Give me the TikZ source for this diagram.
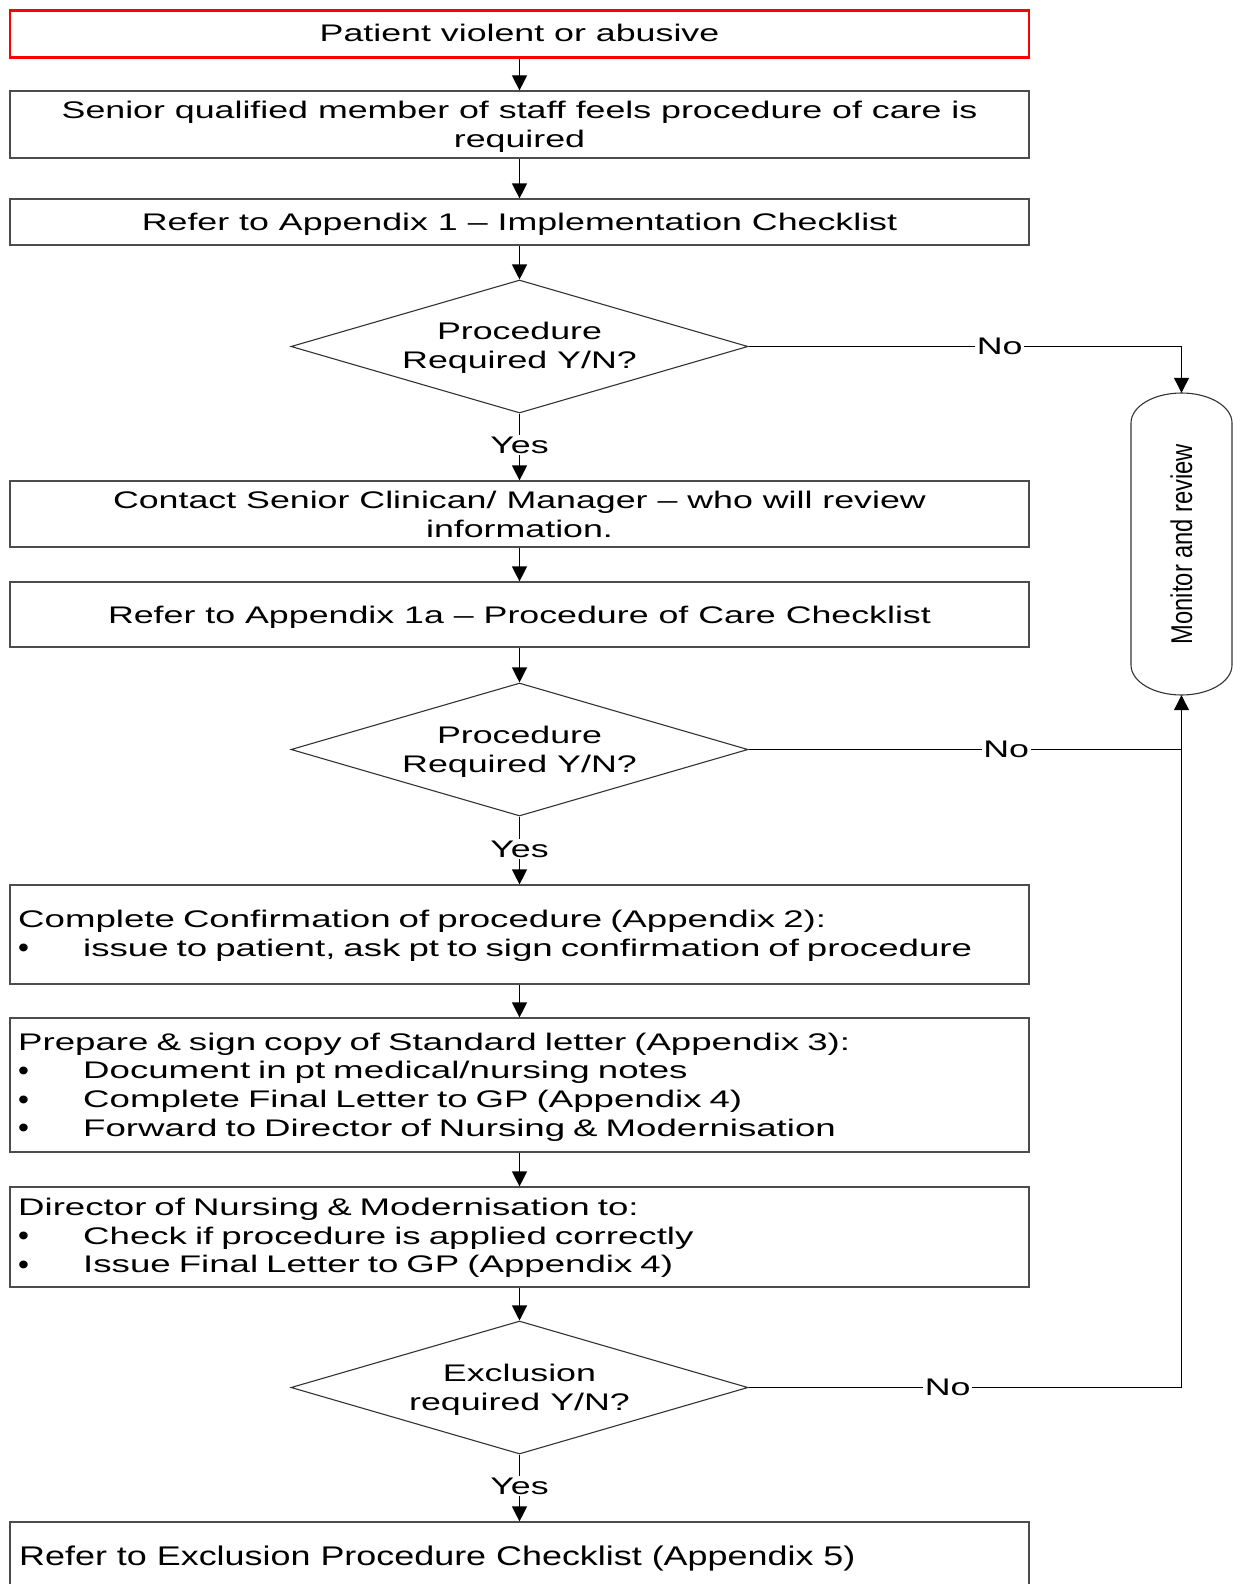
\documentclass[tikz,border=0pt]{standalone}
\usepackage{fontspec}
\setmainfont{Liberation Sans}
\newfontfamily\widefont[FakeStretch=1.49]{Liberation Sans}
\newfontfamily\lwidefont[FakeStretch=1.527]{Liberation Sans}
\newfontfamily\midfont[FakeStretch=1.33]{Liberation Sans}
\newfontfamily\narrowfont[FakeStretch=0.79]{Liberation Sans}
\usetikzlibrary{arrows.meta,shapes.geometric}
\newcommand{\bulitem}{\makebox[65pt][l]{\raisebox{-1.5pt}{\scalebox{0.85}[1.2]{\textbullet}}}}
\tikzset{
  wtext/.style={font=\widefont\fontsize{24}{28.6}\selectfont},
  ctext/.style={wtext, align=center, inner sep=0pt},
  ltext/.style={font=\lwidefont\fontsize{24}{28.6}\selectfont, text width=1003pt, align=left, inner sep=0pt, anchor=west},
  box/.style={draw=black!70, line width=1.2pt, rectangle, minimum width=1019pt, inner sep=0pt},
  redbox/.style={box, draw=red, line width=2.6pt},
  dia/.style={draw=black!80, line width=1.1pt, shape=diamond, minimum width=457pt, minimum height=133pt, inner sep=0pt},
  arr/.style={draw=black, line width=1.2pt, -{Triangle[length=15pt,width=15pt]}},
  conn/.style={draw=black, line width=1.2pt},
  lbl/.style={wtext, fill=white, inner sep=1.5pt}
}
\begin{document}
\begin{tikzpicture}[x=1pt,y=-1pt]
\useasboundingbox (0,0) rectangle (1233,1584);
\clip (0,0) rectangle (1233,1584);
\fill[white] (0,0) rectangle (1233,1584);

% boxes
\node[redbox, minimum height=47pt] (b1) at (519.5,34) {};
\node[box, minimum height=67pt] (b2) at (519.5,124.5) {};
\node[box, minimum height=46pt] (b3) at (519.5,222) {};
\node[dia] (d1) at (519.5,346.5) {};
\node[box, minimum height=66pt] (b4) at (519.5,514) {};
\node[box, minimum height=65pt] (b5) at (519.5,614.5) {};
\node[dia] (d2) at (519.5,749.5) {};
\node[box, minimum height=99pt] (b6) at (519.5,934.5) {};
\node[box, minimum height=134pt] (b7) at (519.5,1085) {};
\node[box, minimum height=100pt] (b8) at (519.5,1237) {};
\node[dia] (d3) at (519.5,1387.5) {};
\node[box, minimum height=66pt] (b9) at (519.5,1555) {};

% texts
\node[ctext] (b1t) at (519.5,33) {Patient violent or abusive};
\node[ctext] (b2t) at (519.5,126.5) {Senior qualified member of staff feels procedure of care is\\required};
\node[ctext] (b3t) at (519.5,224) {Refer to Appendix 1 \textendash{} Implementation Checklist};
\node[ctext] (d1t) at (519.5,348) {Procedure\\Required Y/N?};
\node[ctext] (b4t) at (519.5,514.5) {Contact Senior Clinican/ Manager \textendash{} who will review\\information.};
\node[ctext] (b5t) at (519.5,617.5) {Refer to Appendix 1a \textendash{} Procedure of Care Checklist};
\node[ctext] (d2t) at (519.5,752) {Procedure\\Required Y/N?};
\node[ltext] (b6t) at (18,935.5) {Complete Confirmation of procedure (Appendix 2):\\\bulitem issue to patient, ask pt to sign confirmation of procedure};
\node[ltext] (b7t) at (18,1087) {Prepare \& sign copy of Standard letter (Appendix 3):\\\bulitem Document in pt medical/nursing notes\\\bulitem Complete Final Letter to GP (Appendix 4)\\\bulitem Forward to Director of Nursing \& Modernisation};
\node[ltext] (b8t) at (18,1238) {Director of Nursing \& Modernisation to:\\\bulitem Check if procedure is applied correctly\\\bulitem Issue Final Letter to GP (Appendix 4)};
\node[ctext] (d3t) at (519.5,1390) {Exclusion\\required Y/N?};
\node[inner sep=0pt, anchor=west, font=\midfont\fontsize{27}{31}\selectfont] (b9t) at (19,1558) {Refer to Exclusion Procedure Checklist (Appendix 5)};

% monitor and review terminator
\node[rectangle, minimum width=101pt, minimum height=302pt, inner sep=0pt] (mon) at (1181.5,544) {};
\draw[black!80, line width=1.1pt] (1131,423) .. controls (1131,406.4) and (1153.6,393) .. (1181.5,393)
  .. controls (1209.4,393) and (1232,406.4) .. (1232,423) -- (1232,665)
  .. controls (1232,681.6) and (1209.4,695) .. (1181.5,695)
  .. controls (1153.6,695) and (1131,681.6) .. (1131,665) -- cycle;
\node[rotate=90, inner sep=0pt, font=\narrowfont\fontsize{30}{34}\selectfont] (mont) at (mon.center) {Monitor and review};

% connectors
\draw[arr] (b1.south) -- (b2.north);
\draw[arr] (b2.south) -- (b3.north);
\draw[arr] (b3.south) -- (d1.north);
\draw[arr] (d1.south) -- node[lbl, pos=0.47] (y1) {Yes} (b4.north);
\draw[arr] (b4.south) -- (b5.north);
\draw[arr] (b5.south) -- (d2.north);
\draw[arr] (d2.south) -- node[lbl, pos=0.48] (y2) {Yes} (b6.north);
\draw[arr] (b6.south) -- (b7.north);
\draw[arr] (b7.south) -- (b8.north);
\draw[arr] (b8.south) -- (d3.north);
\draw[arr] (d3.south) -- node[lbl, pos=0.47] (y3) {Yes} (b9.north);

\draw[arr] (d1.east) -- node[lbl, pos=0.58] (n1) {No} (d1.east -| mon.north) -- (mon.north);
\draw[conn] (d2.east) -- node[lbl, pos=0.595] (n2) {No} (d2.east -| mon.south);
\draw[arr] (d3.east) -- node[lbl, pos=0.46] (n3) {No} (d3.east -| mon.south) -- (mon.south);
\end{tikzpicture}
\end{document}
